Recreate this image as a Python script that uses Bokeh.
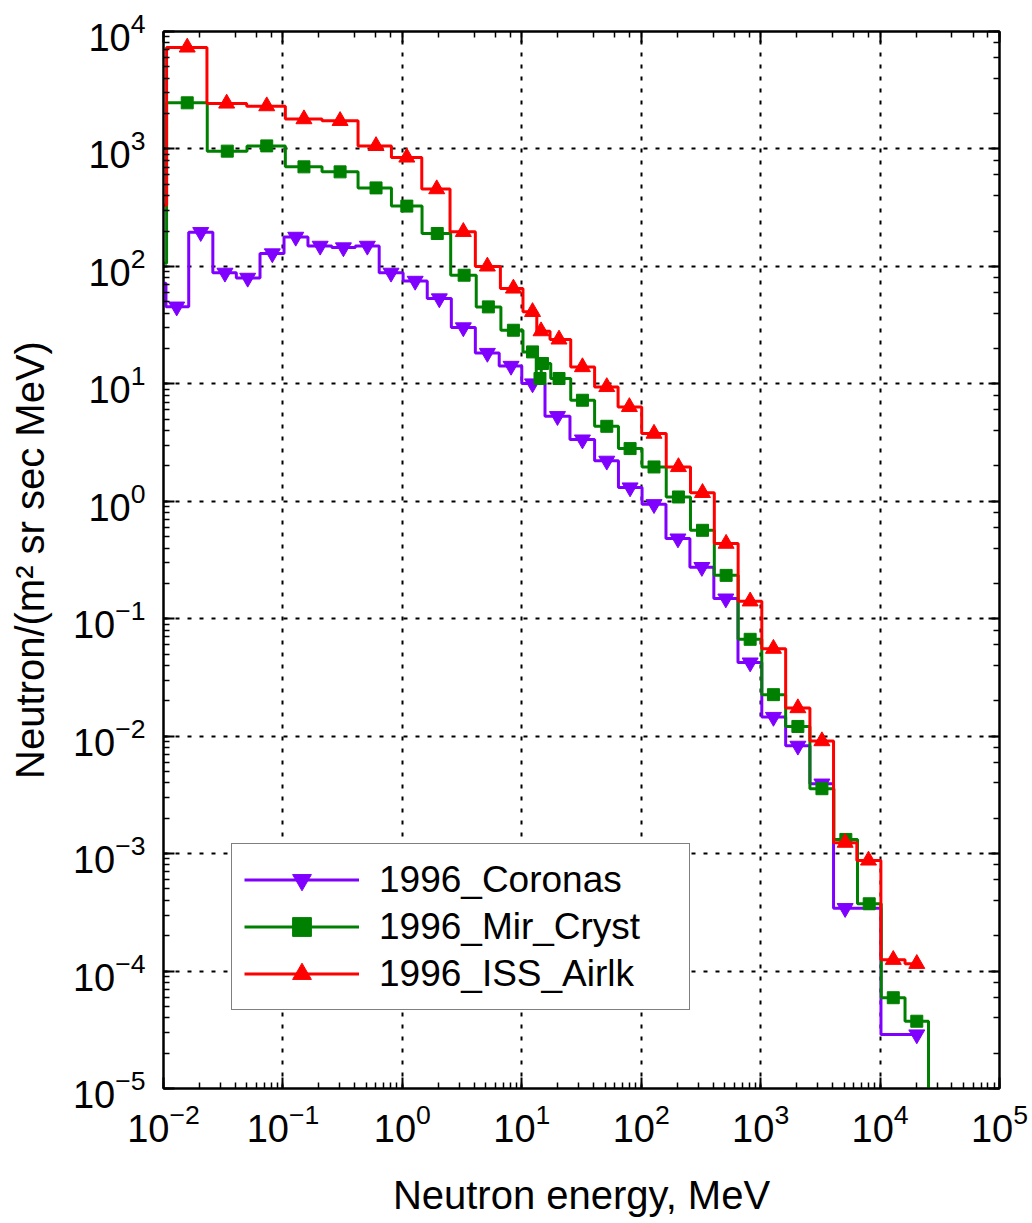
from bokeh.plotting import figure
from bokeh.models import LogAxis, Legend, LegendItem, CustomJSTickFormatter
from bokeh.embed import file_html
from bokeh.resources import INLINE

# ---- data ----
series_names = ["1996_Coronas", "1996_Mir_Cryst", "1996_ISS_Airlk"]

energy_coronas = [0.00853, 0.0129, 0.0205, 0.0327, 0.0507, 0.0815, 0.128, 0.205, 0.321, 0.509,
                  0.804, 1.28, 2.04, 3.24, 5.15, 8.13, 12.3, 19.9, 32.2, 51.5,
                  80.7, 128, 203, 322, 511, 817, 1280, 2050, 3260, 5100, 20300]
flux_coronas = [71.9, 45.4, 195.5, 88.1, 79.8, 128.8, 178.3, 149.5, 144.9, 149.5,
                88.1, 75.2, 53.3, 30.2, 18.3, 14.2, 10.06, 5.30, 3.35, 2.21,
                1.309, 0.943, 0.481, 0.275, 0.1483, 0.0423, 0.01455, 0.00827, 0.00394, 0.000343,
                2.88e-5]

energy_mir = [0.00713, 0.0158, 0.0342, 0.0732, 0.150, 0.301, 0.602, 1.09, 1.96, 3.29,
              5.25, 8.51, 12.3, 14.2, 14.9, 20.5, 32.2, 51.5, 80.7, 128,
              205, 326, 514, 817, 1280, 2050, 3260, 5170, 8110, 12900, 20300, 31900]
flux_mir = [106.5, 2470, 958, 1062, 704, 638, 466, 326, 190.6, 84.1,
            45.2, 28.6, 18.7, 11.1, 14.9, 11.1, 7.25, 4.35, 2.81, 1.96,
            1.088, 0.566, 0.234, 0.0668, 0.02257, 0.0121, 0.00357, 0.00132, 0.000374, 5.93e-5,
            3.74e-5, 1e-6]

energy_iss = [0.00713, 0.0158, 0.0338, 0.0732, 0.150, 0.301, 0.602, 1.09, 1.94, 3.24,
              5.15, 8.51, 12.3, 14.5, 20.5, 32.2, 51.5, 79.6, 128, 205,
              326, 514, 817, 1280, 2050, 3260, 5100, 8000, 12900, 20300]
flux_iss = [332, 7320, 2440, 2315, 1795, 1735, 1062, 847, 455, 197,
            100, 64.9, 41.0, 28.1, 23.9, 13.9, 9.41, 6.36, 3.77, 1.96,
            1.18, 0.436, 0.1407, 0.0556, 0.01735, 0.00908, 0.00124, 0.000875, 0.0001248, 0.0001153]

colors = ["#8000ff", "#008000", "#ff0000"]
markers = ["inverted_triangle", "square", "triangle"]
marker_sizes = [16, 12, 16]

x_title = "Neutron energy, MeV"
y_title = "Neutron/(m\u00b2 sr sec MeV)"
FONT = "Liberation Sans"

# ---- figure ----
p = figure(width=1032, height=1223, x_axis_type="log", y_axis_type="log",
           x_range=(1e-2, 1e5), y_range=(1e-5, 1e4),
           output_backend="svg", toolbar_location=None,
           min_border_left=163, min_border_right=33, min_border_top=31, min_border_bottom=135)
p.background_fill_color = "white"
p.border_fill_color = "white"
p.outline_line_color = "black"
p.outline_line_width = 2

for g in (p.xgrid, p.ygrid):
    g.grid_line_color = "black"
    g.grid_line_dash = "4 8"
    g.grid_line_width = 2

def style_axis(ax):
    ax.axis_line_color = "black"
    ax.axis_line_width = 2
    ax.major_tick_in = 11
    ax.major_tick_out = 0
    ax.minor_tick_in = 6
    ax.minor_tick_out = 0
    ax.major_tick_line_width = 2
    ax.minor_tick_line_width = 1.5
    ax.major_tick_line_color = "black"
    ax.minor_tick_line_color = "black"

xa = p.xaxis[0]
ya = p.yaxis[0]
style_axis(xa)
style_axis(ya)
xa.major_label_text_font = FONT
xa.major_label_text_font_size = "38px"
xa.major_label_text_color = "black"
xa.major_label_standoff = 14
xa.axis_label = x_title
xa.axis_label_text_font = FONT
xa.axis_label_text_font_size = "40px"
xa.axis_label_text_font_style = "normal"
xa.axis_label_text_color = "black"
xa.axis_label_standoff = 28

ya.major_label_text_font = FONT
ya.major_label_text_font_size = "38px"
ya.major_label_text_color = "black"
ya.major_label_standoff = 18
ya.axis_label = y_title
ya.axis_label_text_font = FONT
ya.axis_label_text_font_size = "40px"
ya.axis_label_text_font_style = "normal"
ya.axis_label_text_color = "black"
ya.axis_label_standoff = 18

blank = CustomJSTickFormatter(code="return ''")
top = LogAxis(formatter=blank, major_label_standoff=0)
right = LogAxis(formatter=blank, major_label_standoff=0)
style_axis(top)
style_axis(right)
p.add_layout(top, "above")
p.add_layout(right, "right")

energies = [energy_coronas, energy_mir, energy_iss]
fluxes = [flux_coronas, flux_mir, flux_iss]
items = []
for name, e, f, c, m, s in zip(series_names, energies, fluxes, colors, markers, marker_sizes):
    ln = p.step(e, f, mode="center", line_color=c, line_width=3)
    sc = p.scatter(e, f, marker=m, size=s, fill_color=c, line_color=c)
    items.append(LegendItem(label=name, renderers=[ln, sc]))

legend = Legend(items=items, location=(68, 78),
                border_line_color="black", border_line_width=1.5,
                background_fill_color="white", background_fill_alpha=1,
                padding=12, spacing=0, margin=0,
                glyph_width=115, glyph_height=47, label_height=47,
                label_standoff=20, label_width=298,
                label_text_font=FONT, label_text_font_size="37px",
                label_text_color="black")
p.add_layout(legend)

open("out.html", "w").write(file_html(p, INLINE))
